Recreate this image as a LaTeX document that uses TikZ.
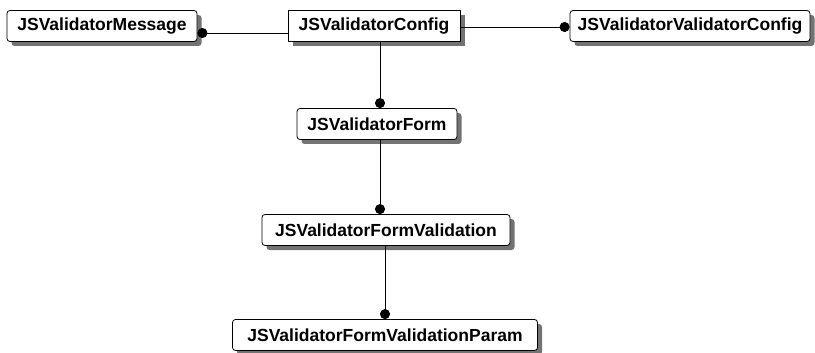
\documentclass[tikz,border=0pt]{standalone}
\usepackage{fontspec}
\setmainfont{Liberation Sans}
\usetikzlibrary{arrows.meta,shadows}

\begin{document}
\begin{tikzpicture}[x=1pt,y=-1pt,line cap=round,line join=round,
  entity/.style={draw,line width=0.8pt,fill=white,rounded corners=3pt,minimum height=31pt,inner sep=0pt,
    font=\bfseries\fontsize{17.5}{20}\selectfont,
    drop shadow={shadow xshift=4.5pt,shadow yshift=-4.5pt,fill=black!55,opacity=1}},
  link/.style={line width=0.8pt,{Circle[length=10pt]}-}]
  \useasboundingbox (0,0) rectangle (815,353);
  % entities
  \foreach \nm/\x/\y/\w/\lab in {
    msg/102/26/190/JSValidatorMessage,
    vcfg/690/26/240/JSValidatorValidatorConfig,
    form/377/124/160/JSValidatorForm,
    fval/386/230/248/JSValidatorFormValidation,
    fparam/385/335/305/JSValidatorFormValidationParam
  } {
    \node[entity,minimum width=\w pt] (\nm) at (\x,\y) {\lab};
  }
  \node[entity,sharp corners,minimum width=172pt] (cfg) at (374,26) {JSValidatorConfig};
  % relations
  \draw[link] ([yshift=-7pt]msg.east) -- ([yshift=-7pt]cfg.west);
  \draw[link] ([yshift=-1pt]vcfg.west) -- ([yshift=-1pt]cfg.east);
  \draw[link] ([xshift=3pt]form.north) -- ([xshift=3pt]form.north |- cfg.south);
  \draw[link] ([xshift=-6pt]fval.north) -- ([xshift=-6pt]fval.north |- form.south);
  \draw[link] (fparam.north) -- (fparam.north |- fval.south);
\end{tikzpicture}
\end{document}
